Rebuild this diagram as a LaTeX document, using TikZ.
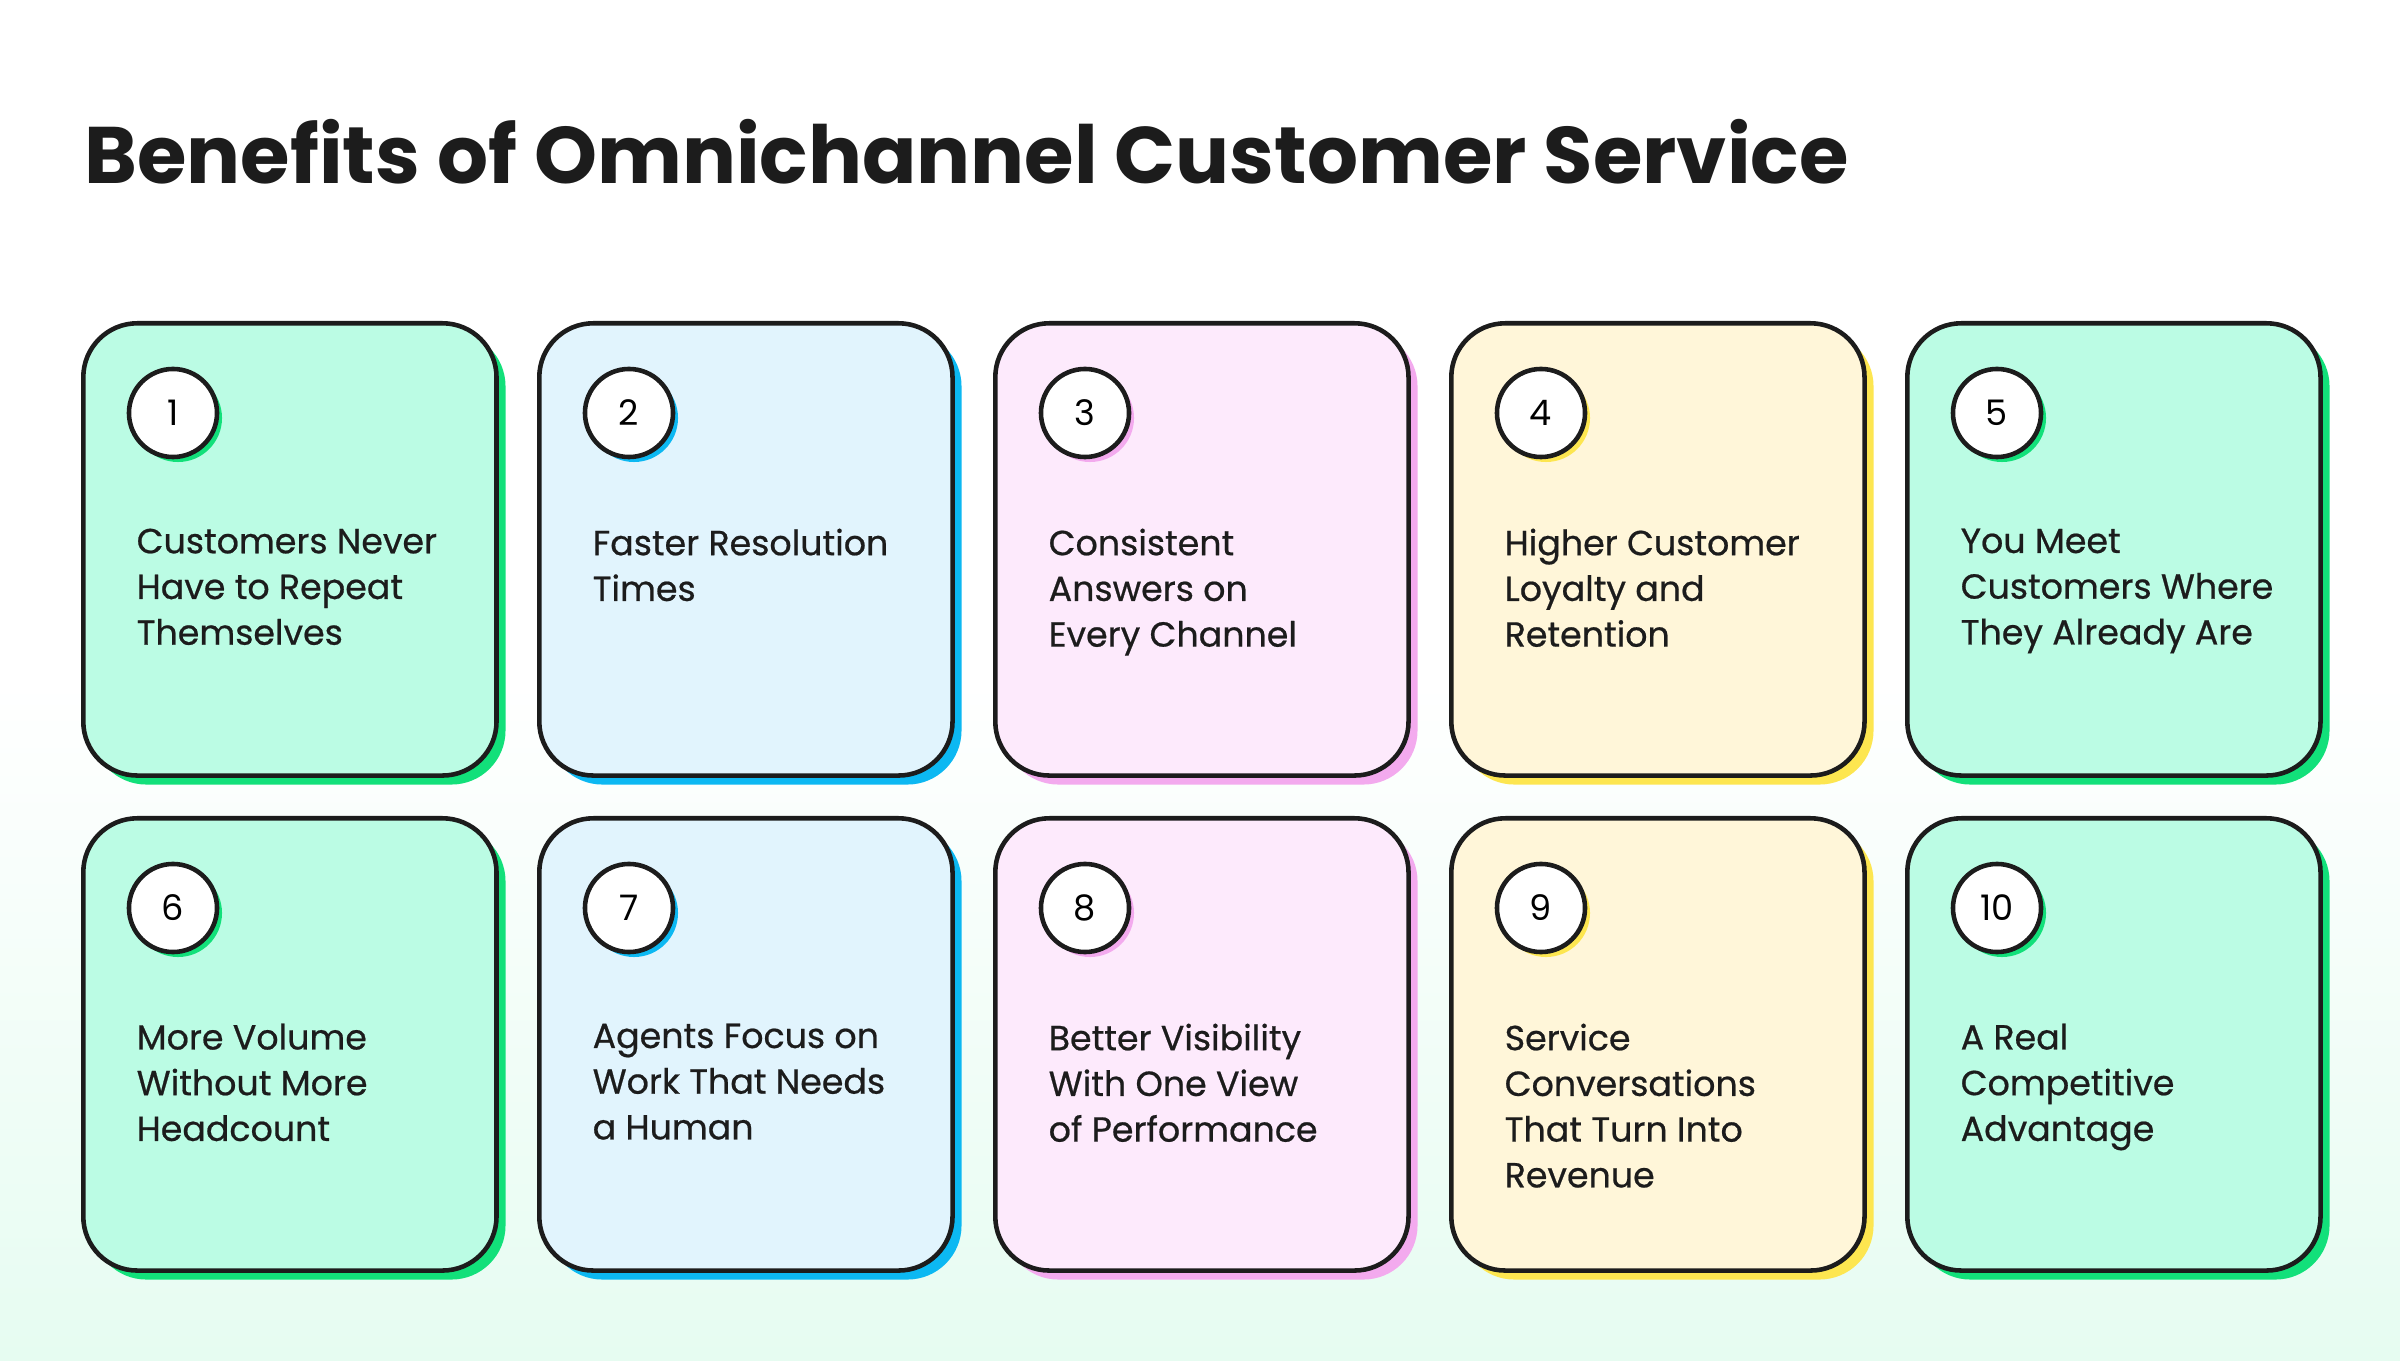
\documentclass[tikz,border=0pt]{standalone}
\usepackage{fontspec}
\setmainfont{Poppins}
\newfontfamily\cardfont{Poppins}[FakeBold=0.6]
\usetikzlibrary{positioning}

\definecolor{mintfill}{HTML}{BBFCE4}
\definecolor{mintedge}{HTML}{12E07A}
\definecolor{skyfill}{HTML}{E1F4FD}
\definecolor{skyedge}{HTML}{0CB8F2}
\definecolor{pinkfill}{HTML}{FDEAFC}
\definecolor{pinkedge}{HTML}{F3AAEE}
\definecolor{sandfill}{HTML}{FFF6D9}
\definecolor{sandedge}{HTML}{FDE650}
\definecolor{ink}{HTML}{1C1C1C}
\definecolor{bgbottom}{HTML}{E6FCF1}

\begin{document}
\begin{tikzpicture}[x=0.01cm,y=0.01cm,
		card/.style={draw=ink, line width=1.3pt, rounded corners=0.54cm, minimum width=4.13cm, minimum height=4.52cm, inner sep=0pt},
		cardshadow/.style={card, draw=none},
		badge/.style={circle, draw=ink, fill=white, line width=1.3pt, minimum size=0.88cm, inner sep=0pt, font=\fontsize{10}{12}\selectfont},
		badgeshadow/.style={badge, draw=none},
		label/.style={align=left, anchor=north west, inner sep=0pt, text=ink, font=\cardfont\fontsize{9.9}{13}\selectfont}]
		% Background with soft fade towards the bottom
		\shade[top color=white, bottom color=bgbottom, middle color=white] (0,0) rectangle (2400,1360);
		\useasboundingbox (0,0) rectangle (2400,1360);
		
		% Title
		\node[anchor=base west, inner sep=0pt, text=ink, font=\fontsize{22.8}{28}\selectfont\bfseries] (title) at (84,1176) {Benefits of Omnichannel Customer Service};
		
		% Cards: column/row/fill/shadow/text
		\foreach \n/\col/\row/\fc/\ec/\txt in {
			1/0/0/mintfill/mintedge/{Customers Never\\Have to Repeat\\Themselves},
			2/1/0/skyfill/skyedge/{Faster Resolution\\Times},
			3/2/0/pinkfill/pinkedge/{Consistent\\Answers on\\Every Channel},
			4/3/0/sandfill/sandedge/{Higher Customer\\Loyalty and\\Retention},
			5/4/0/mintfill/mintedge/{You Meet\\Customers Where\\They Already Are},
			6/0/1/mintfill/mintedge/{More Volume\\Without More\\Headcount},
			7/1/1/skyfill/skyedge/{Agents Focus on\\Work That Needs\\a Human},
			8/2/1/pinkfill/pinkedge/{Better Visibility\\With One View\\of Performance},
			9/3/1/sandfill/sandedge/{Service\\Conversations\\That Turn Into\\Revenue},
			10/4/1/mintfill/mintedge/{A Real\\Competitive\\Advantage}}{
			\coordinate (corner\n) at ({81+456*\col},{1039-495*\row});
			\node[cardshadow, fill=\ec, anchor=north west] (shade\n) at ([shift={(9,-9)}]corner\n) {};
			\node[card, fill=\fc, anchor=north west] (card\n) at (corner\n) {};
			\node[badgeshadow, fill=\ec] (dot\n) at ([shift={(97,-97)}]corner\n) {};
			\node[badge] (num\n) at ([shift={(92,-92)}]corner\n) {\n};
			\node[label] (txt\n) at ([shift={(55,-207)}]corner\n) {\txt};
		}
	\end{tikzpicture}
\end{document}
